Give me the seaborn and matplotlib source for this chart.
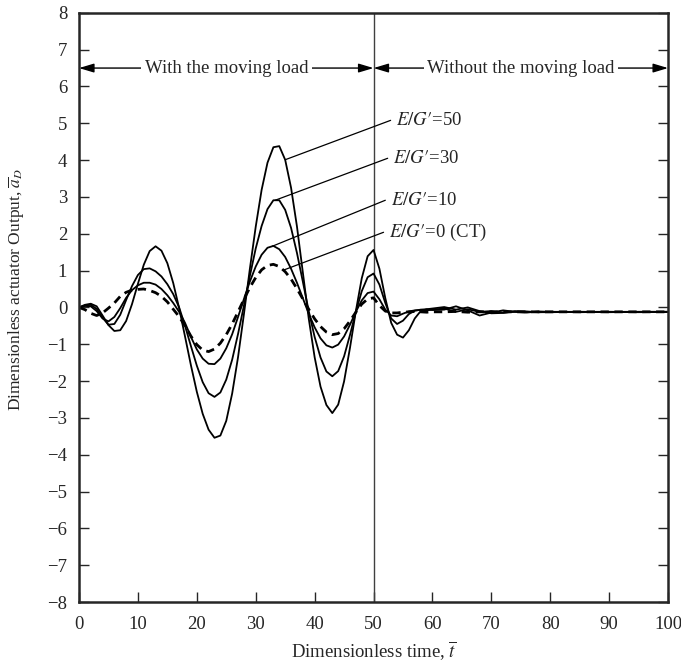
import numpy as np
import pandas as pd
import matplotlib
matplotlib.use("Agg")
import matplotlib.pyplot as plt
import seaborn as sns
from matplotlib.patches import ArrowStyle

# ---- data -------------------------------------------------------------
t = list(range(0, 61)) + list(range(62, 81, 2)) + [85, 90, 95, 100]

a_50 = [0.00, 0.07, 0.10, 0.03, -0.22, -0.48, -0.64, -0.62, -0.37, 0.09,
        0.64, 1.16, 1.53, 1.66, 1.54, 1.20, 0.66, -0.02, -0.79, -1.57,
        -2.29, -2.89, -3.32, -3.54, -3.48, -3.08, -2.34, -1.35, -0.18, 1.04,
        2.19, 3.19, 3.93, 4.35, 4.38, 4.01, 3.25, 2.20, 0.95, -0.30,
        -1.35, -2.15, -2.65, -2.87, -2.64, -2.01, -1.10, -0.10, 0.79, 1.39,
        1.56, 1.05, 0.25, -0.42, -0.74, -0.82, -0.62, -0.30, -0.10, -0.05,
        -0.07,
        -0.06, 0.03, -0.08, -0.22, -0.14, -0.08, -0.12, -0.14, -0.11, -0.12,
        -0.13, -0.12, -0.12, -0.12]

a_30 = [0.00, 0.05, 0.07, -0.04, -0.28, -0.47, -0.45, -0.20, 0.20, 0.58,
        0.88, 1.04, 1.06, 0.98, 0.84, 0.63, 0.36, 0.00, -0.50, -1.05,
        -1.58, -2.03, -2.33, -2.43, -2.31, -1.96, -1.42, -0.72, 0.05, 0.85,
        1.60, 2.21, 2.67, 2.91, 2.91, 2.65, 2.16, 1.48, 0.70, -0.10,
        -0.80, -1.36, -1.74, -1.87, -1.73, -1.33, -0.75, -0.12, 0.44, 0.82,
        0.92, 0.62, 0.12, -0.30, -0.45, -0.36, -0.18, -0.09, -0.06, -0.05,
        -0.03,
        0.01, -0.06, 0.00, -0.10, -0.16, -0.15, -0.10, -0.11, -0.13, -0.13,
        -0.12, -0.13, -0.12, -0.12]

a_10 = [0.00, 0.04, 0.03, -0.10, -0.30, -0.38, -0.26, -0.02, 0.26, 0.47,
        0.60, 0.67, 0.67, 0.62, 0.50, 0.33, 0.12, -0.12, -0.42, -0.80,
        -1.14, -1.39, -1.53, -1.54, -1.39, -1.11, -0.73, -0.26, 0.23, 0.70,
        1.11, 1.43, 1.62, 1.67, 1.58, 1.37, 1.05, 0.67, 0.25, -0.17,
        -0.54, -0.84, -1.03, -1.09, -1.01, -0.79, -0.47, -0.12, 0.19, 0.39,
        0.43, 0.22, -0.06, -0.22, -0.24, -0.17, -0.11, -0.08, -0.07, -0.08,
        -0.06,
        -0.03, -0.12, -0.05, -0.12, -0.10, -0.14, -0.12, -0.12, -0.13, -0.12,
        -0.12, -0.12, -0.13, -0.12]

a_0 = [0.00, -0.06, -0.16, -0.22, -0.15, -0.02, 0.12, 0.30, 0.41, 0.47,
       0.49, 0.50, 0.46, 0.40, 0.30, 0.15, -0.05, -0.25, -0.50, -0.78,
       -1.01, -1.16, -1.20, -1.13, -0.97, -0.74, -0.45, -0.12, 0.22, 0.54,
       0.81, 1.02, 1.14, 1.17, 1.11, 0.97, 0.77, 0.51, 0.23, -0.05,
       -0.31, -0.52, -0.67, -0.74, -0.71, -0.58, -0.37, -0.13, 0.09, 0.23,
       0.26, 0.05, -0.10, -0.15, -0.15, -0.13, -0.12, -0.11, -0.12, -0.13,
       -0.12,
       -0.12, -0.11, -0.13, -0.12, -0.12, -0.12, -0.12, -0.12, -0.12, -0.12,
       -0.12, -0.12, -0.12, -0.12]

series_names = ["E/G'=50", "E/G'=30", "E/G'=10", "E/G'=0 (CT)"]
series_values = [a_50, a_30, a_10, a_0]
series_labels = [r"$E/G{\prime}$=50", r"$E/G{\prime}$=30",
                 r"$E/G{\prime}$=10", r"$E/G{\prime}$=0 (CT)"]
# point on each curve where its leader starts, and where the leader ends
leader_t = [35.0, 33.3, 32.8, 34.7]
label_xy = [(52.9, 5.08), (52.4, 4.05), (52.0, 2.91), (51.7, 2.04)]

x_ticks = list(range(0, 101, 10))
y_ticks = list(range(-8, 9, 1))

FS = 13.5

# ---- style ------------------------------------------------------------
sns.set_style("ticks")
plt.rcParams["font.family"] = ["Liberation Serif", "DejaVu Serif"]
plt.rcParams["mathtext.fontset"] = "stix"
plt.rcParams["axes.unicode_minus"] = True

df = pd.DataFrame({"t": t})
for name, vals in zip(series_names, series_values):
    df[name] = vals

fig = plt.figure(figsize=(6.81, 6.68), dpi=100)
ax = fig.add_axes([0.116, 0.0988, 0.865, 0.882])

for name in series_names:
    dashed = name.startswith("E/G'=0")
    sns.lineplot(data=df, x="t", y=name, ax=ax, color="black",
                 lw=2.0 if dashed else 1.3,
                 linestyle=(0, (3.0, 2.0)) if dashed else "-",
                 estimator=None, sort=False)

ax.axvline(50, color="0.25", lw=1.0, zorder=1)

ax.set_xlim(0, 100)
ax.set_ylim(-8, 8)
ax.set_xticks(x_ticks)
ax.set_yticks(y_ticks)
ax.tick_params(axis="both", direction="in", length=7.5, width=1.0,
               labelsize=FS)
ax.tick_params(axis="x", pad=10)
ax.tick_params(axis="y", right=True, left=True, pad=8.5)
for sp in ax.spines.values():
    sp.set_linewidth(1.8)
    sp.set_visible(True)

ax.set_xlabel(r"Dimensionless time, $\overline{t}$", fontsize=FS, labelpad=5)
ax.set_ylabel(r"Dimensionless actuator Output, $\overline{a}_D$", fontsize=12.5)
ax.yaxis.set_label_coords(-0.088, 0.53)

# leader lines and curve labels
for vals, lt, (lx, ly), lab in zip(series_values, leader_t, label_xy, series_labels):
    y0 = float(np.interp(lt, t, vals))
    ax.plot([lt, lx], [y0, ly], color="black", lw=0.9)
    ax.text(lx + 0.9, ly, lab, fontsize=FS, va="center", ha="left")

# region arrows
astyle = ArrowStyle("<|-|>", head_length=0.6, head_width=0.18)
for x0, x1, txt in [(0, 50, "With the moving load"),
                    (50, 100, "Without the moving load")]:
    ax.annotate("", xy=(x0, 6.5), xytext=(x1, 6.5),
                arrowprops=dict(arrowstyle=astyle, color="black", lw=1.0,
                                mutation_scale=15, shrinkA=0, shrinkB=0))
    ax.text((x0 + x1) / 2, 6.5, txt, fontsize=FS, ha="center", va="center",
            bbox=dict(fc="white", ec="none", pad=2.5))

fig.savefig("out.png", dpi=100)
